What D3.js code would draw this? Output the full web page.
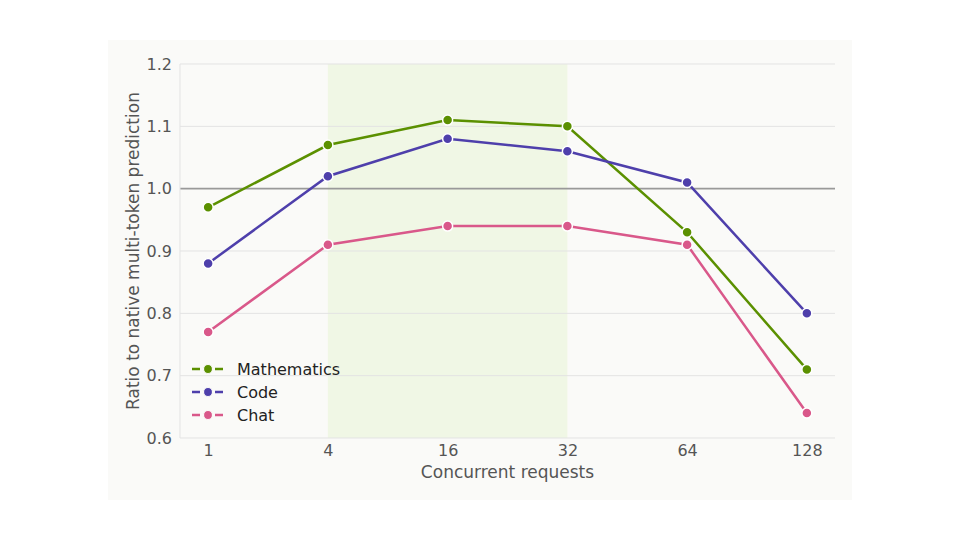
<html>
<script src='https://d3js.org/d3.v7.min.js'></script>
<style>
body { margin: 0; background: #fff; }
text { font-family: 'DejaVu Sans', sans-serif; }
</style>
<body onload='init()'>
<svg width=960 height=540></svg>
<script>
var categories = ['1', '4', '16', '32', '64', '128'];
var mathematics = [0.97, 1.07, 1.11, 1.10, 0.93, 0.71];
var code = [0.88, 1.02, 1.08, 1.06, 1.01, 0.80];
var chat = [0.77, 0.91, 0.94, 0.94, 0.91, 0.64];
var yTicks = [0.6, 0.7, 0.8, 0.9, 1.0, 1.1, 1.2];
var seriesNames = ['Mathematics', 'Code', 'Chat'];
var shadedRange = ['4', '32'];

function init() {
  var svg = d3.select('svg');
  var left = 180, right = 835, top = 64, bottom = 438;
  var colors = ['#5b9000', '#4e3fab', '#d9588a'];
  var series = [mathematics, code, chat];

  svg.append('rect').attr('x', 108).attr('y', 40).attr('width', 744).attr('height', 460)
    .attr('fill', '#fafaf8');

  var x = d3.scalePoint().domain(categories).range([left, right]).padding(0.235);
  var y = d3.scaleLinear().domain([0.6, 1.2]).range([bottom, top]);

  // shaded band
  svg.append('rect')
    .attr('x', x(shadedRange[0])).attr('y', top)
    .attr('width', x(shadedRange[1]) - x(shadedRange[0]))
    .attr('height', bottom - top)
    .attr('fill', '#f0f7e5');

  // grid
  svg.append('g').selectAll('line').data(yTicks.filter(function(d) { return d !== 1.0; }))
    .enter().append('line')
    .attr('x1', left).attr('x2', right)
    .attr('y1', function(d) { return y(d); }).attr('y2', function(d) { return y(d); })
    .attr('stroke', '#e3e3e3').attr('stroke-width', 1);

  svg.append('line').attr('x1', left).attr('x2', right).attr('y1', y(1.0)).attr('y2', y(1.0))
    .attr('stroke', '#999').attr('stroke-width', 1.6);

  svg.append('line').attr('x1', left).attr('x2', left).attr('y1', top).attr('y2', bottom)
    .attr('stroke', '#e3e3e3');

  // axes
  var yAxis = d3.axisLeft(y).tickValues(yTicks).tickSize(0).tickPadding(8).tickFormat(d3.format('.1f'));
  var gy = svg.append('g').attr('transform', 'translate(' + left + ',0)').call(yAxis);
  gy.select('.domain').remove();
  gy.selectAll('text').attr('font-size', 16).attr('fill', '#555').attr('font-family', 'DejaVu Sans');

  var xAxis = d3.axisBottom(x).tickSize(0).tickPadding(7);
  var gx = svg.append('g').attr('transform', 'translate(0,' + bottom + ')').call(xAxis);
  gx.select('.domain').remove();
  gx.selectAll('text').attr('font-size', 16).attr('fill', '#555').attr('font-family', 'DejaVu Sans');

  // axis titles
  svg.append('text').attr('x', (left + right) / 2).attr('y', 478).attr('text-anchor', 'middle')
    .attr('font-size', 17).attr('fill', '#555').text('Concurrent requests');
  svg.append('text').attr('transform', 'translate(139,' + (top + bottom) / 2 + ') rotate(-90)')
    .attr('text-anchor', 'middle').attr('font-size', 17).attr('fill', '#555')
    .text('Ratio to native multi-token prediction');

  // lines
  var line = d3.line().x(function(d, i) { return x(categories[i]); }).y(function(d) { return y(d); });
  series.forEach(function(s, k) {
    svg.append('path').datum(s).attr('d', line).attr('fill', 'none')
      .attr('stroke', colors[k]).attr('stroke-width', 2.5);
    svg.append('g').selectAll('circle').data(s).enter().append('circle')
      .attr('cx', function(d, i) { return x(categories[i]); })
      .attr('cy', function(d) { return y(d); })
      .attr('r', 5).attr('fill', colors[k]).attr('stroke', '#fff').attr('stroke-width', 1.5);
  });

  // legend
  var lg = svg.append('g');
  seriesNames.forEach(function(name, k) {
    var ly = 369 + k * 23;
    lg.append('line').attr('x1', 192).attr('x2', 226).attr('y1', ly).attr('y2', ly)
      .attr('stroke', colors[k]).attr('stroke-width', 2.5).attr('stroke-dasharray', '8,3.5');
    lg.append('circle').attr('cx', 208).attr('cy', ly).attr('r', 4.5).attr('fill', colors[k])
      .attr('stroke', '#fafaf8').attr('stroke-width', 1.2);
    lg.append('text').attr('x', 237).attr('y', ly + 5.5).attr('font-size', 16).attr('fill', '#222')
      .text(name);
  });
}
</script>
</body>
</html>
